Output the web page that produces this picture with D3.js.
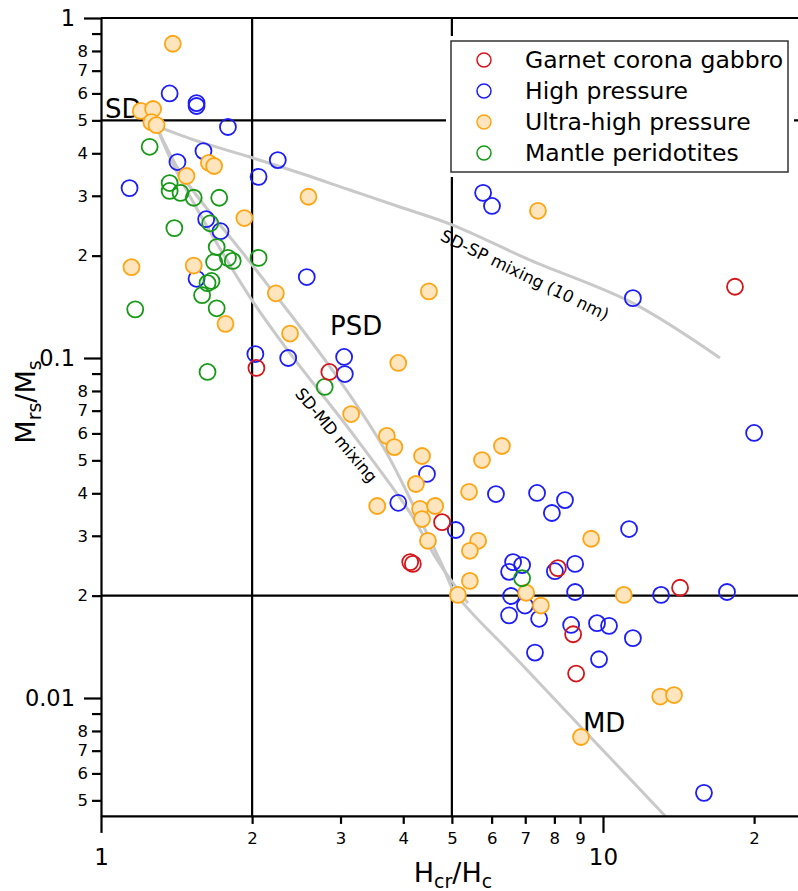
<!DOCTYPE html>
<html>
  <body>
    <style>
      body {
        margin: 0;
        background: #fff;
      }
      svg {
        display: block;
        font-family: 'DejaVu Sans', sans-serif;
      }
    </style>
    <div class="chart"></div>
    <script src="https://d3js.org/d3.v7.min.js"></script>
    <script type="text/javascript">
      // Hcr/Hc, Mrs/Ms pairs
      const garnet = [
        [2.04, 0.0935], [2.85, 0.091], [4.78, 0.0329], [4.13, 0.0251], [4.18, 0.0248],
        [8.13, 0.0241], [14.24, 0.0211], [8.72, 0.0154], [8.84, 0.0118], [18.32, 0.162],
      ];
      const highPressure = [
        [1.37, 0.6], [1.55, 0.562], [1.55, 0.551], [1.79, 0.478], [1.6, 0.406], [1.42, 0.377],
        [1.14, 0.316], [2.06, 0.341], [2.25, 0.382], [1.62, 0.256], [1.73, 0.236], [1.55, 0.171],
        [2.57, 0.173], [2.03, 0.1027], [2.36, 0.1], [3.05, 0.1007], [3.06, 0.0897], [4.46, 0.0456],
        [3.91, 0.0375], [5.09, 0.0312], [5.77, 0.306], [6.01, 0.28], [11.47, 0.15], [20.0, 0.0602],
        [6.12, 0.0398], [7.39, 0.0401], [8.4, 0.0382], [7.91, 0.035], [11.27, 0.0314], [6.62, 0.0251],
        [6.9, 0.0246], [6.5, 0.0235], [8.02, 0.0236], [8.8, 0.0248], [6.56, 0.01995], [6.99, 0.0187],
        [6.5, 0.0175], [7.46, 0.0171], [8.8, 0.0205], [8.64, 0.0164], [9.73, 0.0166], [10.28, 0.0163],
        [11.47, 0.015], [7.32, 0.0136], [9.82, 0.013], [13.05, 0.0201], [17.66, 0.0205], [15.89, 0.00526],
      ];
      const ultraHigh = [
        [1.39, 0.84], [1.2, 0.533], [1.27, 0.54], [1.26, 0.494], [1.29, 0.484], [1.64, 0.375],
        [1.68, 0.367], [1.48, 0.343], [1.93, 0.258], [1.15, 0.185], [1.53, 0.187], [1.77, 0.126],
        [2.59, 0.298], [4.5, 0.157], [2.23, 0.155], [2.38, 0.118], [3.91, 0.0967], [3.15, 0.0684],
        [3.71, 0.059], [3.84, 0.0547], [4.36, 0.0515], [4.24, 0.0426], [3.55, 0.0367], [4.32, 0.036],
        [4.63, 0.0367], [4.36, 0.0336], [4.48, 0.029], [6.29, 0.0551], [5.74, 0.0501], [5.41, 0.0404],
        [5.64, 0.029], [5.43, 0.0271], [5.43, 0.0221], [5.14, 0.0201], [7.03, 0.0204], [7.52, 0.0187],
        [9.47, 0.0294], [11.0, 0.0201], [13.0, 0.0101], [13.85, 0.0102], [9.04, 0.00768], [7.42, 0.271],
      ];
      const mantle = [
        [1.25, 0.418], [1.37, 0.327], [1.37, 0.31], [1.44, 0.306], [1.53, 0.296], [1.72, 0.296],
        [1.4, 0.241], [1.65, 0.249], [1.7, 0.212], [1.68, 0.1915], [1.79, 0.197], [1.83, 0.193],
        [2.06, 0.197], [1.66, 0.1685], [1.63, 0.166], [1.59, 0.153], [1.7, 0.14], [1.17, 0.139],
        [1.63, 0.091], [2.79, 0.0822], [6.9, 0.0225],
      ];

      // mixing curves
      const sdSpCurve = [
        [1.29, 0.481], [1.575, 0.432], [1.98, 0.39], [2.49, 0.35], [3.13, 0.312], [3.94, 0.278],
        [5.02, 0.246], [7.16, 0.194], [11.47, 0.145], [17.1, 0.1],
      ];
      const sdMdCurveA = [
        [1.29, 0.48], [1.42, 0.35], [1.98, 0.151], [2.41, 0.1007], [3.13, 0.0614], [4.13, 0.035],
        [4.67, 0.0255], [5.38, 0.019],
      ];
      const sdMdCurveB = [
        [1.29, 0.48], [1.45, 0.345], [1.98, 0.1915], [2.86, 0.0941], [3.65, 0.0547], [4.26, 0.035],
        [4.8, 0.0243], [5.07, 0.0204], [6.84, 0.0127], [13.3, 0.0045],
      ];

      const boundaryX = [2, 5];
      const boundaryY = [0.5, 0.02];

      const xMajorTicks = [1, 10];
      const xMinorTicks = [2, 3, 4, 5, 6, 7, 8, 9, 20];
      const yMajorTicks = [1, 0.1, 0.01];
      const yMinorTicks = [
        0.9, 0.8, 0.7, 0.6, 0.5, 0.4, 0.3, 0.2,
        0.09, 0.08, 0.07, 0.06, 0.05, 0.04, 0.03, 0.02,
        0.009, 0.008, 0.007, 0.006, 0.005,
      ];

      const series = [
        { name: 'Garnet corona gabbro', data: garnet, stroke: '#d4161b', fill: 'none' },
        { name: 'High pressure', data: highPressure, stroke: '#1d1df7', fill: 'none' },
        { name: 'Ultra-high pressure', data: ultraHigh, stroke: '#ffa514', fill: '#fee5bd' },
        { name: 'Mantle peridotites', data: mantle, stroke: '#179a17', fill: 'none' },
      ];
      // drawing order (blue under, red on top)
      const drawOrder = [1, 2, 3, 0];

      const width = 798;
      const height = 891;
      const margin = { top: 18, left: 101 };
      const lineW = 2.2;

      const x = d3.scaleLog().domain([1, 25]).range([margin.left, margin.left + 502 * Math.log10(25)]);
      const y = d3.scaleLog().domain([0.0045, 1]).range([margin.top + 340 * Math.log10(1 / 0.0045), margin.top]);

      const svg = d3
        .select('.chart')
        .append('svg')
        .attr('width', width)
        .attr('height', height);

      const leading = (d) => Math.round(d / Math.pow(10, Math.floor(Math.log10(d) + 1e-9)));

      // boundary lines
      svg
        .append('g')
        .selectAll('line')
        .data(boundaryX)
        .enter()
        .append('line')
        .attr('x1', (d) => x(d))
        .attr('x2', (d) => x(d))
        .attr('y1', y(1))
        .attr('y2', y(0.0045))
        .attr('stroke', '#000')
        .attr('stroke-width', lineW);
      svg
        .append('g')
        .selectAll('line')
        .data(boundaryY)
        .enter()
        .append('line')
        .attr('x1', x(1))
        .attr('x2', x(25))
        .attr('y1', (d) => y(d))
        .attr('y2', (d) => y(d))
        .attr('stroke', '#000')
        .attr('stroke-width', lineW);

      // mixing curves
      const line = d3
        .line()
        .x((d) => x(d[0]))
        .y((d) => y(d[1]))
        .curve(d3.curveCatmullRom.alpha(0.5));
      svg
        .append('g')
        .selectAll('path')
        .data([sdSpCurve, sdMdCurveA, sdMdCurveB])
        .enter()
        .append('path')
        .attr('d', line)
        .attr('fill', 'none')
        .attr('stroke', '#c9c9c9')
        .attr('stroke-width', 3);

      // curve labels
      svg
        .append('text')
        .attr('transform', `translate(${x(6.99)}, ${y(0.1755)}) rotate(26)`)
        .attr('text-anchor', 'middle')
        .attr('dominant-baseline', 'central')
        .style('font-size', '16.8px')
        .text('SD-SP mixing (10 nm)');
      svg
        .append('text')
        .attr('transform', `translate(${x(2.94)}, ${y(0.0592)}) rotate(50)`)
        .attr('text-anchor', 'middle')
        .attr('dominant-baseline', 'central')
        .style('font-size', '16.5px')
        .text('SD-MD mixing');

      // domain labels
      const regions = [
        { text: 'SD', hx: 1.019, m: 0.508 },
        { text: 'PSD', hx: 2.86, m: 0.1168 },
        { text: 'MD', hx: 9.12, m: 0.00794 },
      ];
      svg
        .append('g')
        .selectAll('text')
        .data(regions)
        .enter()
        .append('text')
        .attr('x', (d) => x(d.hx))
        .attr('y', (d) => y(d.m))
        .style('font-size', '26px')
        .text((d) => d.text);

      // points
      drawOrder.forEach((i) => {
        const s = series[i];
        svg
          .append('g')
          .selectAll('circle')
          .data(s.data)
          .enter()
          .append('circle')
          .attr('cx', (d) => x(d[0]))
          .attr('cy', (d) => y(d[1]))
          .attr('r', 8)
          .attr('fill', s.fill)
          .attr('stroke', s.stroke)
          .attr('stroke-width', 1.8);
      });

      // axes
      function styleAxis(g, fontSize) {
        g.selectAll('line').attr('stroke', '#000').attr('stroke-width', lineW);
        g.selectAll('path').attr('stroke', '#000').attr('stroke-width', lineW);
        g.selectAll('text').attr('fill', '#000').style('font-size', fontSize).style('font-family', "'DejaVu Sans', sans-serif");
      }

      const yMinorAxis = svg
        .append('g')
        .attr('transform', `translate(${x(1)}, 0)`)
        .call(
          d3.axisLeft(y).tickValues(yMinorTicks).tickSize(9).tickPadding(4)
            .tickFormat((d) => (leading(d) === 9 ? '' : String(leading(d))))
        );
      yMinorAxis.select('.domain').remove();
      styleAxis(yMinorAxis, '16.5px');

      const yMajorAxis = svg
        .append('g')
        .attr('transform', `translate(${x(1)}, 0)`)
        .call(d3.axisLeft(y).tickValues(yMajorTicks).tickSize(17).tickSizeOuter(0).tickPadding(9).tickFormat((d) => String(d)));
      styleAxis(yMajorAxis, '22.5px');

      const xMinorAxis = svg
        .append('g')
        .attr('transform', `translate(0, ${y(0.0045)})`)
        .call(d3.axisBottom(x).tickValues(xMinorTicks).tickSize(8).tickPadding(8).tickFormat((d) => String(leading(d))));
      xMinorAxis.select('.domain').remove();
      styleAxis(xMinorAxis, '16.5px');

      const xMajorAxis = svg
        .append('g')
        .attr('transform', `translate(0, ${y(0.0045)})`)
        .call(d3.axisBottom(x).tickValues(xMajorTicks).tickSize(17).tickSizeOuter(0).tickPadding(16).tickFormat((d) => String(d)));
      styleAxis(xMajorAxis, '23px');

      // top frame
      svg
        .append('line')
        .attr('x1', x(1))
        .attr('x2', x(25))
        .attr('y1', y(1))
        .attr('y2', y(1))
        .attr('stroke', '#000')
        .attr('stroke-width', lineW);

      // axis titles
      const yTitle = svg
        .append('text')
        .attr('transform', 'translate(35, 402) rotate(-90)')
        .attr('text-anchor', 'middle')
        .style('font-size', '27px');
      yTitle.append('tspan').text('M');
      yTitle.append('tspan').attr('dy', 6).style('font-size', '19px').text('rs');
      yTitle.append('tspan').attr('dy', -6).text('/M');
      yTitle.append('tspan').attr('dy', 6).style('font-size', '19px').text('s');

      const xTitle = svg
        .append('text')
        .attr('x', 453)
        .attr('y', 882)
        .attr('text-anchor', 'middle')
        .style('font-size', '27px');
      xTitle.append('tspan').text('H');
      xTitle.append('tspan').attr('dy', 6).style('font-size', '19px').text('cr');
      xTitle.append('tspan').attr('dy', -6).text('/H');
      xTitle.append('tspan').attr('dy', 6).style('font-size', '19px').text('c');

      // legend
      const legend = svg.append('g');
      legend
        .append('rect')
        .attr('x', 446)
        .attr('y', 36)
        .attr('width', 348)
        .attr('height', 141)
        .attr('fill', '#fff');
      legend
        .append('rect')
        .attr('x', 451)
        .attr('y', 41)
        .attr('width', 337)
        .attr('height', 131)
        .attr('fill', '#fff')
        .attr('stroke', '#333')
        .attr('stroke-width', 1.5);
      const item = legend
        .selectAll('.item')
        .data(series)
        .enter()
        .append('g')
        .attr('transform', (d, i) => `translate(0, ${60 + i * 31})`);
      item
        .append('circle')
        .attr('cx', 484)
        .attr('cy', 0)
        .attr('r', 7)
        .attr('fill', (d) => (d.fill === 'none' ? '#fff' : d.fill))
        .attr('stroke', (d) => d.stroke)
        .attr('stroke-width', 1.5);
      item
        .append('text')
        .attr('x', 525)
        .attr('y', 0)
        .attr('dominant-baseline', 'central')
        .style('font-size', '23.5px')
        .text((d) => d.name);
    </script>
  </body>
</html>
